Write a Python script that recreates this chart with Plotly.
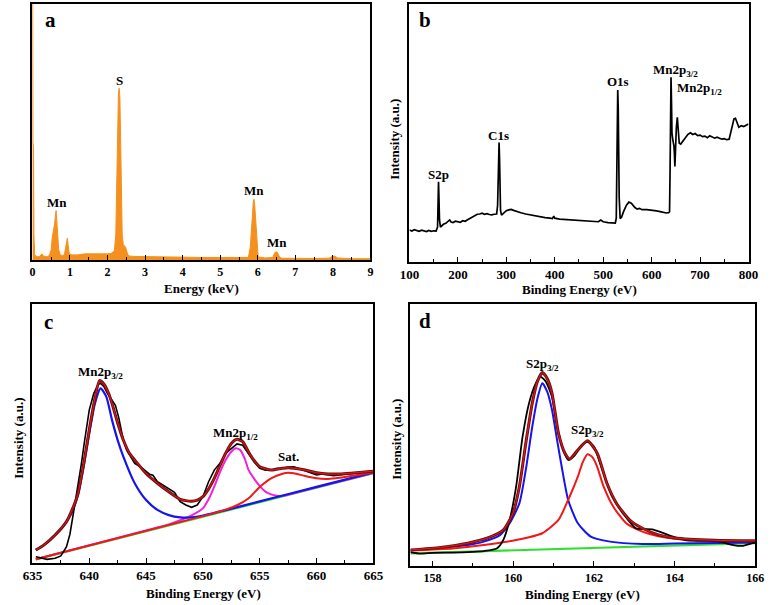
import plotly.graph_objects as go

W, H = 778, 605
FONT = "Liberation Serif"

# ---------------- Panel a : EDS spectrum ----------------
eds_energy = [0.0, 0.008, 0.015, 0.03, 0.04, 0.06, 0.1, 0.15, 0.2, 0.25, 0.3, 0.35, 0.4, 0.45,
              0.5, 0.53, 0.56, 0.59, 0.61, 0.63, 0.65, 0.67, 0.7, 0.74, 0.8, 0.85, 0.88, 0.91,
              0.93, 0.95, 0.98, 1.05, 1.2, 1.4, 1.6, 1.8, 2.0, 2.1, 2.18, 2.22, 2.25, 2.27,
              2.29, 2.31, 2.33, 2.35, 2.37, 2.39, 2.42, 2.45, 2.48, 2.52, 2.56, 2.7, 3.0, 3.5,
              4.0, 4.5, 5.0, 5.5, 5.75, 5.8, 5.83, 5.86, 5.88, 5.9, 5.92, 5.95, 5.98, 6.01,
              6.2, 6.4, 6.44, 6.48, 6.52, 6.57, 6.62, 7.0, 7.5, 7.9, 7.98, 8.05, 8.12, 8.5, 9.0]
eds_counts = [100, 100, 46, 44, 10, 2.0, 1.5, 1.2, 1.5, 2.4, 1.5, 1.3, 1.3, 1.8,
              4.0, 9.0, 11, 14, 17, 19.3, 15, 10, 4.0, 2.0, 1.8, 2.0, 5.0, 8.0,
              8.5, 6.0, 2.5, 2.0, 2.0, 2.4, 2.3, 2.3, 2.4, 2.6, 3.5, 10, 35, 55,
              65, 67.1, 63, 45, 25, 10, 6.0, 5.5, 5.0, 3.0, 1.6, 1.4, 1.3, 1.2,
              1.0, 1.0, 1.0, 0.9, 1.0, 5.0, 10, 18, 23, 23.7, 21, 13, 5.0, 1.2,
              0.8, 1.0, 2.5, 3.2, 3.0, 1.5, 0.7, 0.6, 0.6, 0.7, 1.4, 1.5, 0.8, 0.5, 0.5]
eds_labels = ["S", "Mn", "Mn", "Mn"]

# ---------------- Panel b : XPS survey ----------------
survey_be = [100, 105, 110, 115, 120, 125, 130, 135, 140, 145, 150, 155, 158, 159, 160, 161, 162,
             164, 167, 170, 175, 180, 183, 186, 190, 195, 200, 205, 210, 215, 220, 225, 230,
             235, 240, 245, 250, 255, 260, 265, 270, 275, 280, 282, 283, 284, 285, 286, 287,
             288, 290, 295, 300, 305, 310, 315, 320, 330, 340, 350, 360, 370, 380, 390, 395,
             398, 400, 410, 420, 430, 440, 450, 460, 470, 480, 490, 495, 500, 510, 520, 525,
             527, 528, 529, 530, 531, 532, 533, 535, 538, 542, 548, 553, 558, 565, 570, 575,
             580, 590, 600, 610, 620, 630, 635, 637, 638, 639, 640, 641, 642, 644, 646, 647,
             648, 649, 650, 651, 653, 654, 655, 657, 660, 663, 667, 670, 675, 680, 685, 690,
             695, 700, 705, 710, 715, 720, 725, 730, 735, 740, 745, 750, 755, 760, 763, 766,
             770, 773, 776, 780, 785, 790, 795, 800]
survey_int = [12.4, 12.0, 12.5, 12.2, 11.9, 12.3, 12.0, 11.8, 12.2, 11.9, 12.1, 12.0, 13.5, 22, 31.1, 24, 16.3,
              13.5, 14.0, 14.6, 15.0, 16.0, 16.3, 15.5, 15.3, 15.8, 15.6, 15.4, 16.0, 15.8, 16.4, 17.0, 17.6,
              18.0, 18.5, 18.6, 18.9, 18.5, 18.7, 18.4, 18.3, 18.5, 18.6, 22, 30, 42, 46.3, 40, 28,
              20, 18.2, 19.0, 19.9, 20.2, 20.4, 20.0, 19.8, 19.1, 18.6, 18.2, 17.8, 17.6, 17.2, 17.0, 16.8,
              17.8, 17.0, 16.6, 16.5, 16.3, 16.3, 16.2, 16.0, 15.9, 15.8, 15.6, 16.3, 15.6, 15.3, 15.2, 15.1,
              17, 30, 55, 66.7, 60, 40, 25, 16.8, 17.4, 19.5, 22.0, 23.2, 22.8, 21.2, 20.5, 20.8,
              20.3, 20.3, 20.1, 19.8, 19.4, 19.0, 19.1, 19.5, 35, 60, 71.6, 62, 50, 47, 45, 42,
              37.0, 42, 48, 52, 56.1, 52, 48, 46, 45.7, 46.5, 47.5, 48.6, 49.5, 50.1, 49.4, 49.8,
              49.0, 49.2, 48.6, 48.8, 48.2, 48.9, 48.3, 48.0, 48.4, 47.9, 47.6, 47.8, 47.4, 47.6, 50, 53,
              55.5, 55.7, 54, 52.2, 52.8, 52.5, 53.0, 53.5]

# ---------------- Panel c : Mn 2p ----------------
mn_bg_be = [635.3, 665]
mn_bg = [1.3, 34.6]

mn_raw_be = [635.3, 635.8, 636.3, 637, 637.5, 638, 638.3, 638.6, 639, 639.3, 639.6, 640, 640.4,
             640.8, 641, 641.3, 641.6, 642, 642.3, 642.6, 643, 643.3, 643.6, 644, 644.5, 645,
             645.3, 645.6, 646, 646.5, 647, 647.5, 648, 648.5, 649, 649.5, 650, 650.5, 651,
             651.5, 652, 652.5, 653, 653.5, 654, 654.5, 655, 655.5, 656, 656.5, 657, 657.5,
             658, 658.5, 659, 659.5, 660, 660.5, 661, 661.5, 662, 662.5, 663, 664, 665]
mn_raw = [2.3, 1.8, 1.3, 1.7, 2.6, 6.2, 11, 19, 29.4, 38, 47.4, 59.0, 65.5,
          69.0, 69.3, 68, 65.5, 62.9, 60.8, 56, 47.4, 43.5, 41.5, 38.4, 37.1, 35.2,
          34.2, 33.8, 31.3, 30.0, 28.7, 27.2, 23.6, 22.3, 21.4, 22.3, 25.5, 31.3, 35.8,
          38.4, 42.3, 44.2, 45.9, 45.4, 42.3, 39.0, 36.5, 35.8, 35.8, 36.5, 36.5, 37.0,
          37.1, 36.3, 35.8, 35.0, 33.9, 34.3, 33.9, 33.6, 33.9, 34.2, 34.5, 35.0, 35.5]

mn_env_be = [635.3, 636, 637, 638, 638.5, 639, 639.5, 640, 640.5, 640.9, 641.3, 641.7, 642,
             642.5, 643, 643.5, 644, 645, 646, 647, 648, 648.5, 649, 649.5, 650, 650.5, 651,
             651.5, 652, 652.5, 653, 653.5, 654, 654.5, 655, 656, 657, 657.5, 658, 659, 660,
             661, 662, 663, 664, 665]
mn_env = [4.9, 6.8, 10.7, 15.9, 20.5, 26.5, 38, 51.3, 63.5, 70.4, 69.0, 65.5, 61.6,
          54, 47.4, 42.5, 39.7, 34.5, 30.7, 27.4, 24.5, 24.0, 23.8, 24.2, 25.5, 28.5, 32.6,
          37.5, 42.3, 46.1, 47.7, 46.8, 42.9, 39.5, 37.1, 35.8, 36.5, 36.7, 36.5, 35.8, 34.8,
          34.3, 34.3, 34.6, 35.0, 35.4]

mn_p32_be = [635.3, 636, 637, 638, 638.5, 639, 639.5, 640, 640.5, 641, 641.5, 642, 642.5,
             643, 644, 645, 646, 647, 648, 649, 650, 652, 655, 660, 665]
mn_p32 = [4.9, 6.8, 10.7, 15.9, 19.7, 26.2, 37.1, 50.0, 61.6, 67.4, 64.2, 55.2, 47.4,
          41.0, 30.7, 24.2, 20.4, 18.4, 17.5, 17.5, 18.2, 20.3, 23.7, 29.3, 34.9]

mn_p12_be = [635.3, 645, 647, 648, 649, 650, 650.5, 651, 651.5, 652, 652.5, 652.9, 653.3,
             653.7, 654, 654.5, 655, 655.5, 656, 656.5, 657, 660, 665]
mn_p12 = [1.3, 12.5, 14.8, 16.4, 18.3, 21.0, 24.5, 29.4, 35.0, 39.7, 42.9, 44.2, 43.5,
          40.0, 36.0, 32.5, 29.6, 27.5, 26.4, 25.9, 25.8, 29.2, 34.7]

mn_sat_be = [635.3, 650, 652, 653, 654, 655, 656, 657, 657.5, 658, 659, 660, 661, 662, 663,
             664, 665]
mn_sat = [1.3, 18.0, 20.5, 22.2, 24.8, 29.3, 32.6, 34.4, 34.8, 34.6, 33.5, 32.6, 32.4, 32.8,
          33.5, 34.2, 35.0]

# ---------------- Panel d : S 2p ----------------
s_bg_be = [157.45, 166]
s_bg = [4.7, 8.6]

s_raw_be = [157.45, 157.7, 158, 158.5, 159, 159.27, 159.59, 159.75, 159.91, 160.07, 160.23,
            160.39, 160.55, 160.67, 160.8, 160.96, 161.12, 161.28, 161.36, 161.5, 161.7,
            161.84, 162.0, 162.2, 162.45, 162.72, 163.04, 163.45, 163.85, 164.25, 164.6,
            165.05, 165.45, 165.7, 165.93, 166]
s_raw = [5.2, 4.6, 4.9, 5.0, 5.3, 5.6, 6.6, 9.8, 17.5, 30.2, 49.3,
         62.1, 69.5, 72.2, 70.5, 64.5, 50.8, 42.5, 40.4, 41.8, 46.0,
         47.3, 45.5, 37.0, 26.5, 20.0, 14.3, 13.9, 11.7, 9.8, 9.5,
         9.4, 7.9, 7.6, 8.6, 8.8]

s_env_be = [157.45, 158.2, 158.87, 159.35, 159.75, 159.99, 160.15, 160.31, 160.47, 160.6,
            160.72, 160.84, 160.96, 161.12, 161.28, 161.4, 161.6, 161.84, 162.08, 162.32,
            162.56, 162.88, 163.2, 163.6, 164.0, 165, 166]
s_env = [6.0, 7.0, 8.6, 10.5, 13.6, 20.0, 30.2, 46.8, 62.1, 70.5,
         73.8, 71.5, 65.9, 50.6, 43.0, 40.8, 44.2, 47.7, 43.0, 31.5,
         23.8, 17.5, 14.3, 11.8, 10.6, 9.7, 9.5]

s_p32_be = [157.45, 158, 158.87, 159.27, 159.67, 159.91, 160.15, 160.31, 160.47, 160.6,
            160.72, 160.84, 160.96, 161.08, 161.2, 161.36, 161.6, 161.92, 162.4, 163.2,
            164, 165, 166]
s_p32 = [5.9, 6.6, 7.9, 9.2, 11.7, 16.2, 23.8, 36.6, 53.1, 64.0,
         69.7, 66.5, 59.5, 48.5, 37.8, 25.1, 16.2, 11.1, 9.2, 8.3,
         8.5, 8.7, 8.9]

s_p12_be = [157.45, 158.5, 159.27, 160.07, 160.72, 161.12, 161.36, 161.6, 161.72, 161.84,
            161.96, 162.08, 162.24, 162.48, 162.8, 163.2, 163.6, 164, 165, 166]
s_p12 = [5.8, 6.6, 7.9, 9.8, 12.4, 17.5, 25.1, 34.0, 39.5, 42.6,
         41.5, 37.8, 30.2, 22.5, 16.2, 13.0, 11.2, 10.3, 9.6, 9.4]

# ---------------- colours ----------------
ORANGE = "#F5901E"
BLUE = "#1414F0"
MAGENTA = "#F020E0"
RED = "#F01818"
BROWN = "#6E1010"
GREEN = "#30E030"

fig = go.Figure()

# panel a
fig.add_trace(go.Scatter(x=eds_energy, y=eds_counts, mode="lines", fill="tozeroy",
                         fillcolor=ORANGE, line=dict(color=ORANGE, width=1),
                         xaxis="x", yaxis="y", showlegend=False))
# panel b
fig.add_trace(go.Scatter(x=survey_be, y=survey_int, mode="lines",
                         line=dict(color="black", width=1.7),
                         xaxis="x2", yaxis="y2", showlegend=False))


# panel c
def add_c(x, y, color, width, shape="spline"):
    fig.add_trace(go.Scatter(x=x, y=y, mode="lines",
                             line=dict(color=color, width=width, shape=shape, smoothing=0.6),
                             xaxis="x3", yaxis="y3", showlegend=False))


add_c(mn_bg_be, mn_bg, GREEN, 2.2, "linear")
add_c(mn_p12_be, mn_p12, MAGENTA, 2.0)
add_c(mn_p32_be, mn_p32, BLUE, 2.2)
add_c(mn_sat_be, mn_sat, RED, 2.0)
add_c(mn_raw_be, mn_raw, "black", 1.6, "linear")
add_c(mn_env_be, mn_env, BROWN, 3.0)
add_c(mn_env_be, mn_env, RED, 1.0)


# panel d
def add_d(x, y, color, width, shape="spline"):
    fig.add_trace(go.Scatter(x=x, y=y, mode="lines",
                             line=dict(color=color, width=width, shape=shape, smoothing=0.6),
                             xaxis="x4", yaxis="y4", showlegend=False))


add_d(s_bg_be, s_bg, GREEN, 2.2, "linear")
add_d(s_p32_be, s_p32, BLUE, 2.0)
add_d(s_p12_be, s_p12, RED, 2.0)
add_d(s_raw_be, s_raw, "black", 1.8)
add_d(s_env_be, s_env, BROWN, 3.0)
add_d(s_env_be, s_env, RED, 1.0)


def xd(p0, p1):
    return [p0 / W, p1 / W]


def yd(p_top, p_bot):
    return [1 - p_bot / H, 1 - p_top / H]


def xaxis(domain, anchor, rng, dtick, minor_dtick, size, tick0=None):
    d = dict(domain=domain, anchor=anchor, range=rng, dtick=dtick,
             showline=True, linecolor="black", linewidth=1.6, mirror=True,
             ticks="inside", ticklen=5, tickwidth=1.4, tickcolor="black",
             showgrid=False, zeroline=False, ticklabelstandoff=0,
             tickfont=dict(family=FONT, size=size, color="black", weight="bold"),
             minor=dict(ticks="inside", ticklen=3, tickwidth=1.2, tickcolor="black",
                        dtick=minor_dtick, showgrid=False))
    if tick0 is not None:
        d["tick0"] = tick0
    return d


def yaxis(domain, anchor, rng, layer="above traces"):
    return dict(domain=domain, anchor=anchor, range=rng, showline=True, linecolor="black",
                linewidth=1.6, mirror=True, ticks="", showticklabels=False,
                showgrid=False, zeroline=False, layer=layer)


fig.update_layout(
    width=W, height=H, margin=dict(l=0, r=0, t=0, b=0),
    paper_bgcolor="white", plot_bgcolor="white",
    xaxis=xaxis(xd(23, 370), "y", [0, 9], 1, 0.5, 12),
    yaxis=yaxis(yd(4, 260), "x", [0, 100], layer="below traces"),
    xaxis2=xaxis(xd(410, 758), "y2", [100, 800], 100, 50, 13),
    yaxis2=yaxis(yd(4, 262), "x2", [0, 100]),
    xaxis3=xaxis(xd(23, 373), "y3", [635, 665], 5, 2.5, 13),
    yaxis3=yaxis(yd(304, 562.7), "x3", [0, 100]),
    xaxis4=xaxis(xd(411, 765), "y4", [157.45, 166], 2, 1, 12, tick0=158),
    yaxis4=yaxis(yd(304, 565.7), "x4", [0, 100]),
)


def paper_text(px, py, text, size, angle=0):
    fig.add_annotation(x=px / W, y=1 - py / H, xref="paper", yref="paper",
                       text="<b>" + text + "</b>", showarrow=False, textangle=angle,
                       font=dict(family=FONT, size=size, color="black"),
                       xanchor="center", yanchor="middle")


def data_text(ax, x, y, text, size=13):
    fig.add_annotation(x=x, y=y, xref=ax[0], yref=ax[1], text="<b>" + text + "</b>",
                       showarrow=False, font=dict(family=FONT, size=size, color="black"),
                       xanchor="center", yanchor="middle")


# panel letters
paper_text(42, 20, "a", 21)
paper_text(426, 20, "b", 21)
paper_text(40, 322, "c", 21)
paper_text(426, 321, "d", 21)

# axis titles
paper_text(197, 288, "Energy (keV)", 13)
paper_text(585, 289, "Binding Energy (eV)", 13)
paper_text(199, 593, "Binding Energy (eV)", 13)
paper_text(588, 594, "Binding Energy (eV)", 13)
paper_text(395, 139, "Intensity (a.u.)", 13, -90)
paper_text(8, 438, "Intensity (a.u.)", 13, -90)
paper_text(396, 439, "Intensity (a.u.)", 13, -90)

# peak labels, panel a
data_text(("x", "y"), 2.33, 70.3, eds_labels[0])
data_text(("x", "y"), 0.65, 22.3, eds_labels[1])
data_text(("x", "y"), 5.89, 27.3, eds_labels[2])
data_text(("x", "y"), 6.51, 7.0, eds_labels[3])

# peak labels, panel b
data_text(("x2", "y2"), 160.3, 34.1, "S2p")
data_text(("x2", "y2"), 283, 49.2, "C1s")
data_text(("x2", "y2"), 530.5, 69.8, "O1s")
data_text(("x2", "y2"), 649, 74.4, "Mn2p<sub>3/2</sub>")
data_text(("x2", "y2"), 699, 67.4, "Mn2p<sub>1/2</sub>")

# peak labels, panel c
data_text(("x3", "y3"), 641, 73.7, "Mn2p<sub>3/2</sub>")
data_text(("x3", "y3"), 652.9, 50.1, "Mn2p<sub>1/2</sub>")
data_text(("x3", "y3"), 657.5, 41.2, "Sat.")

# peak labels, panel d
data_text(("x4", "y4"), 160.72, 77.0, "S2p<sub>3/2</sub>")
data_text(("x4", "y4"), 161.83, 51.5, "S2p<sub>3/2</sub>")

# the page body keeps no default margin, so the figure sits at the window origin
fig.write_html("out.html", config={"displayModeBar": False},
               post_script="document.body.style.margin='0px';")
